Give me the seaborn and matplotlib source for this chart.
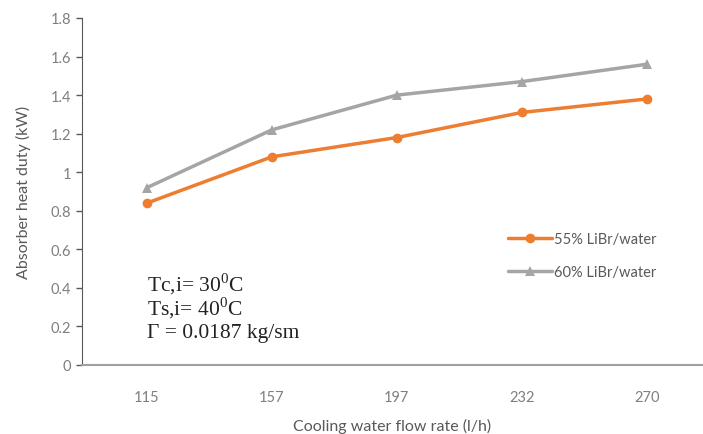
import numpy as np
import pandas as pd
import matplotlib.pyplot as plt
import seaborn as sns

# data
flow_rates = ["115", "157", "197", "232", "270"]
duty_55 = [0.84, 1.08, 1.18, 1.31, 1.38]
duty_60 = [0.92, 1.22, 1.40, 1.47, 1.56]
series_names = ["55% LiBr/water", "60% LiBr/water"]
notes = ["Tc,i= 30$^{0}$C", "Ts,i= 40$^{0}$C", "\u0393 = 0.0187 kg/sm"]

df = pd.DataFrame({
    "flow": flow_rates * 2,
    "duty": duty_55 + duty_60,
    "series": [series_names[0]] * 5 + [series_names[1]] * 5,
})

sns.set_style("white")
plt.rcParams['font.family'] = ['Lato', 'DejaVu Sans']
plt.rcParams['mathtext.fontset'] = 'custom'
plt.rcParams['mathtext.rm'] = 'Liberation Serif'

fig = plt.figure(figsize=(7.03, 4.35), dpi=100)
ax = fig.add_axes([82 / 703, (435 - 366) / 435, (703 - 82) / 703, (366 - 19) / 435])

palette = {series_names[0]: "#ED7D31", series_names[1]: "#A5A5A5"}
markers = {series_names[0]: "o", series_names[1]: "^"}
sns.lineplot(data=df, x="flow", y="duty", hue="series", style="series",
             palette=palette, markers=markers, dashes=False, markersize=7,
             linewidth=2.5, markeredgewidth=0, sort=False, ax=ax)

ax.set_ylim(0, 1.8)
ax.set_yticks(np.arange(0, 1.81, 0.2))
ax.set_yticklabels(["0", "0.2", "0.4", "0.6", "0.8", "1", "1.2", "1.4", "1.6", "1.8"])
ax.set_xlim(-0.52, 4.45)

ax.tick_params(axis="y", colors="#595959", labelsize=10.5, length=4, width=1,
               direction="out", left=True, pad=4)
ax.tick_params(axis="x", colors="#595959", labelsize=10.5, length=0, pad=18)
for lbl in ax.get_yticklabels():
    lbl.set_color("#7f7f7f")
for lbl in ax.get_xticklabels():
    lbl.set_color("#7f7f7f")

sns.despine(ax=ax)
ax.spines["left"].set_color("#595959")
ax.spines["bottom"].set_color("#a0a0a0")
ax.spines["bottom"].set_linewidth(1.5)

ax.set_xlabel("Cooling water flow rate (l/h)", color="#595959", fontsize=11.5, labelpad=10)
ax.set_ylabel("Absorber heat duty (kW)", color="#595959", fontsize=11.5, labelpad=14)

leg = ax.legend(loc="upper left", bbox_to_anchor=(0.665, 0.42), frameon=False,
                fontsize=10.5, handlelength=3, labelspacing=1.25, handletextpad=0.15)
for t in leg.get_texts():
    t.set_color("#595959")

# condition notes, one line at a time so the superscripts don't shift spacing
for i, note in enumerate(notes):
    ax.text(0.105, 0.237 - i * 0.072, note, transform=ax.transAxes,
            family=["Liberation Serif", "DejaVu Serif"], fontsize=15.5,
            color="#222222", va="center")

fig.savefig("out.png", dpi=100)
